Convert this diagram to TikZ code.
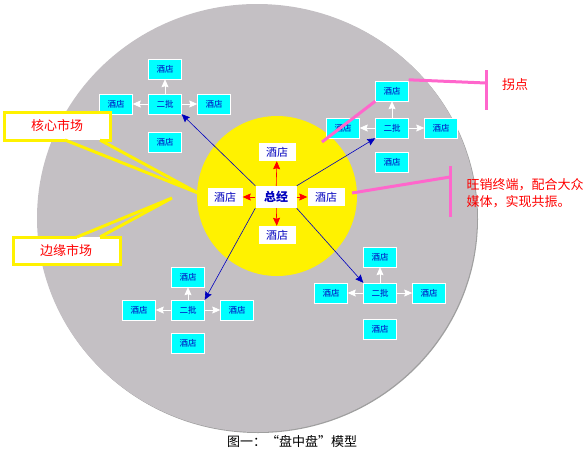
\documentclass[tikz,border=0pt]{standalone}
\usepackage{fontspec}
\newfontfamily\cjk{Noto Sans CJK SC}
\usetikzlibrary{arrows.meta,positioning}

\definecolor{plate}{RGB}{196,192,196}
\definecolor{hotelcyan}{RGB}{0,255,255}
\definecolor{deepblue}{RGB}{0,0,190}
\definecolor{pinkline}{RGB}{255,102,204}

\tikzset{
  hotel/.style={draw=white,fill=hotelcyan,text=deepblue,font=\cjk\fontsize{8.5}{9}\selectfont,
    minimum width=33pt,minimum height=20pt,inner sep=0pt},
  whitebox/.style={fill=white,text=deepblue,font=\cjk\fontsize{11}{12}\selectfont,
    minimum width=37pt,minimum height=18pt,inner sep=0pt},
  callout/.style={draw=yellow,line width=3pt,line join=miter},
  note/.style={text=red,font=\cjk\fontsize{13}{17}\selectfont,align=left},
  pinkbar/.style={pinkline,line width=3pt}
}

\begin{document}
\begin{tikzpicture}[x=1pt,y=-1pt,>={Stealth[length=8pt,width=7pt,inset=1pt]},node distance=49pt]
      \useasboundingbox (0,0) rectangle (585,458);

      % plates
      \fill[gray!75] (258,219) ellipse [x radius=220,y radius=214];
      \fill[plate] (257,218) ellipse [x radius=220,y radius=214];
      \fill[yellow] (277,196) circle [radius=80];

      % core
      \node[whitebox,minimum width=41pt,minimum height=22pt,font=\cjk\bfseries\fontsize{12}{13}\selectfont] (zj) at (276,197) {总经};
      \node[whitebox] (c1) at (277,152) {酒店};
      \node[whitebox,minimum width=35pt] (c2) at (225,197) {酒店};
      \node[whitebox] (c3) at (326,197) {酒店};
      \node[whitebox] (c4) at (277,235) {酒店};

      % clusters
      \node[hotel] (a0) at (165,104) {二批};
      \node[hotel] (a1) [above of=a0,node distance=35pt] {酒店};
      \node[hotel] (a2) [left of=a0] {酒店};
      \node[hotel] (a3) [right of=a0] {酒店};
      \node[hotel] (a4) [below of=a0,node distance=38pt] {酒店};

      \node[hotel] (b0) at (392,128) {二批};
      \node[hotel] (b1) [above of=b0,node distance=37pt] {酒店};
      \node[hotel] (b2) [left of=b0] {酒店};
      \node[hotel] (b3) [right of=b0] {酒店};
      \node[hotel] (b4) [below of=b0,node distance=34pt] {酒店};

      \node[hotel] (d0) at (188,310) {二批};
      \node[hotel] (d1) [above of=d0,node distance=33pt] {酒店};
      \node[hotel] (d2) [left of=d0] {酒店};
      \node[hotel] (d3) [right of=d0] {酒店};
      \node[hotel] (d4) [below of=d0,node distance=33pt] {酒店};

      \node[hotel] (e0) at (380,293) {二批};
      \node[hotel] (e1) [above of=e0,node distance=36pt] {酒店};
      \node[hotel] (e2) [left of=e0] {酒店};
      \node[hotel] (e3) [right of=e0] {酒店};
      \node[hotel] (e4) [below of=e0,node distance=36pt] {酒店};

      \path[->,white,semithick]
      (a0) edge (a1) (a0) edge (a2) (a0) edge (a3)
      (b0) edge (b1) (b0) edge (b2) (b0) edge (b3)
      (d0) edge (d1) (d0) edge (d2) (d0) edge (d3)
      (e0) edge (e1) (e0) edge (e2) (e0) edge (e3)
      ;

      \path[->,red,semithick]
      (zj) edge (c1) (zj) edge (c2) (zj) edge (c3) (zj) edge (c4)
      ;

      \path[->,deepblue,semithick]
      (zj.north west) edge (a0.south east)
      (zj.north east) edge (b0.south west)
      (zj.south west) edge (d0.north east)
      (zj.south east) edge (e0.north west)
      ;

      % callouts
      \coordinate (coretip) at (198,193);
      \coordinate (edgetip) at (172,198);
      \fill[white] (4,112) rectangle (110,140);
      \draw[callout] (65,140) -- (4,140) -- (4,112) -- (110,112) -- (110,140) -- (100,140);
      \draw[callout] (65,140) -- (coretip) -- (100,140);
      \node[note] (core) at (57,126) {核心市场};

      \fill[white] (13,237) rectangle (120,264);
      \draw[callout] (77,237) -- (13,237) -- (13,264) -- (120,264) -- (120,237) -- (100,237);
      \draw[callout] (77,237) -- (edgetip) -- (100,237);
      \node[note] (edge) at (66,251) {边缘市场};

      % pink marks
      \node[note] (turn) at (515,85) {拐点};
      \node[note,anchor=west] (boom) at (463,193) {旺销终端，配合大众\\媒体，实现共振。};
      \coordinate (t1) at (486,70);
      \coordinate (t2) at (486,110);
      \coordinate (tm) at (486,83);
      \coordinate (s1) at (450,166);
      \coordinate (s2) at (450,217);
      \coordinate (sm) at (450,177);
      \coordinate (kink) at (322,142);
      \coordinate (yend) at (352,193);
      \draw[pinkbar] (t1) -- (t2);
      \draw[pinkbar] ([yshift=1pt]b1.north east) -- (tm);
      \draw[pinkbar] (b1.south west) -- (kink);
      \draw[pinkbar] (s1) -- (s2);
      \draw[pinkbar] (yend) -- (sm);

      \node[font=\cjk\fontsize{13}{15}\selectfont] (caption) at (292,441) {图一：“盘中盘”模型};
\end{tikzpicture}
\end{document}
